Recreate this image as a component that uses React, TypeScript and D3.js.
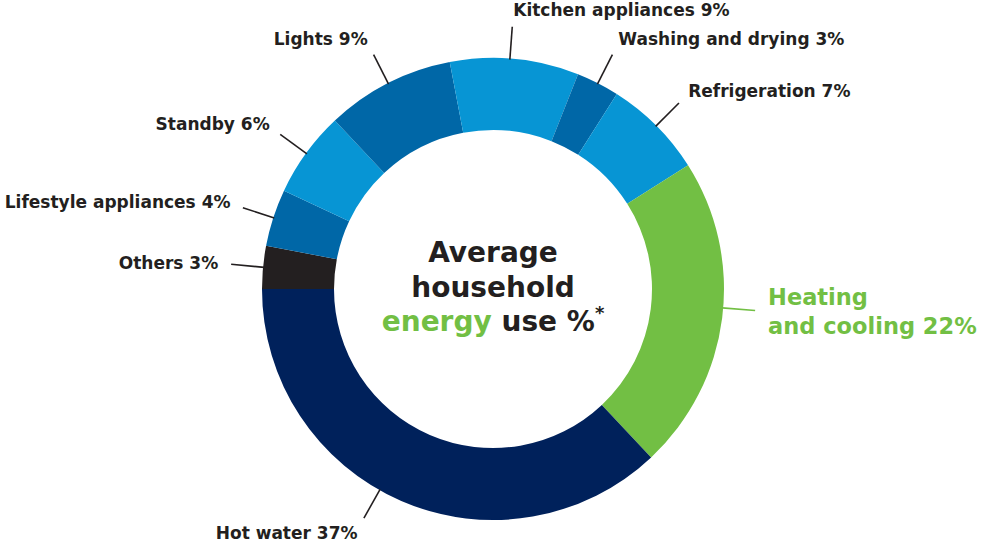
import React from "react";
import * as d3 from "d3";

const categories = [
  "Others",
  "Lifestyle appliances",
  "Standby",
  "Lights",
  "Kitchen appliances",
  "Washing and drying",
  "Refrigeration",
  "Heating and cooling",
  "Hot water",
];
const values = [3, 4, 6, 9, 9, 3, 7, 22, 37];
const colors = [
  "#231f20",
  "#0067a7",
  "#0795d4",
  "#0067a7",
  "#0795d4",
  "#0067a7",
  "#0795d4",
  "#72bf44",
  "#00215b",
];
const labelLines: string[][] = [
  ["Others 3%"],
  ["Lifestyle appliances 4%"],
  ["Standby 6%"],
  ["Lights 9%"],
  ["Kitchen appliances 9%"],
  ["Washing and drying 3%"],
  ["Refrigeration 7%"],
  ["Heating", "and cooling 22%"],
  ["Hot water 37%"],
];
const highlight = [false, false, false, false, false, false, false, true, false];

// layout tweaks (degrees) for leader-line angle relative to slice middle
const leaderShift: Record<string, number> = {
  "Heating and cooling": -2.5,
  "Hot water": 6,
  "Kitchen appliances": -1.2,
};

const W = 982;
const H = 543;
const cx = 493;
const cy = 289;
const outerR = 231;
const innerR = 159;
const DARK = "#231f20";
const GREEN = "#72bf44";
const FONT = "'DejaVu Sans', Verdana, sans-serif";

export default function App() {
  const data = categories.map((c, i) => ({ c, v: values[i], i }));
  const pie = d3
    .pie<any>()
    .value((d) => d.v)
    .sort(null)
    .startAngle(-Math.PI / 2)
    .endAngle((3 * Math.PI) / 2);
  const arcs = pie(data);
  const arc = d3.arc<any>().innerRadius(innerR).outerRadius(outerR);

  return (
    <svg
      width={W}
      height={H}
      style={{ position: "absolute", left: 0, top: 0, display: "block" }}
      fontFamily={FONT}
    >
      <rect width={W} height={H} fill="#fff" />
      <g transform={`translate(${cx},${cy})`}>
        {arcs.map((a, i) => (
          <path key={i} d={arc(a) as string} fill={colors[i]} />
        ))}
        {arcs.map((a, i) => {
          const mid =
            (a.startAngle + a.endAngle) / 2 +
            ((leaderShift[categories[i]] || 0) * Math.PI) / 180;
          const s = Math.sin(mid);
          const c = Math.cos(mid);
          const x1 = s * (outerR - 1);
          const y1 = -c * (outerR - 1);
          const x2 = s * (outerR + 32);
          const y2 = -c * (outerR + 32);
          const hl = highlight[i];
          const fs = hl ? 22.5 : 17;
          const lh = hl ? 29 : 19;
          const anchor = s >= 0.05 ? "start" : s <= -0.05 ? "end" : "start";
          const tx = x2 + s * 13;
          const lines = labelLines[i];
          const blockCenter = y2 - c * 17;
          const firstY = blockCenter - ((lines.length - 1) * lh) / 2;
          return (
            <g key={"l" + i}>
              <line
                x1={x1}
                y1={y1}
                x2={x2}
                y2={y2}
                stroke={hl ? GREEN : DARK}
                strokeWidth={1.6}
              />
              <text
                textAnchor={anchor}
                fontSize={fs}
                fontWeight={700}
                fill={hl ? GREEN : DARK}
              >
                {lines.map((ln, k) => (
                  <tspan key={k} x={tx} y={firstY + k * lh} dy="0.35em">
                    {ln}
                  </tspan>
                ))}
              </text>
            </g>
          );
        })}
        <text textAnchor="middle" fontSize={28} fontWeight={700} fill={DARK}>
          <tspan x={0} y={-27}>Average</tspan>
          <tspan x={0} y={8}>household</tspan>
          <tspan x={0} y={42}>
            <tspan fill={GREEN}>energy</tspan>
            <tspan> use %</tspan>
            <tspan fontSize={18} dy={-12}>*</tspan>
          </tspan>
        </text>
      </g>
    </svg>
  );
}
